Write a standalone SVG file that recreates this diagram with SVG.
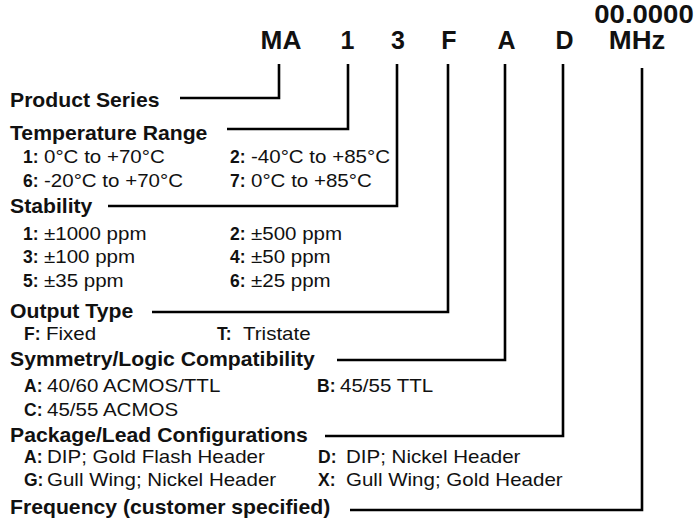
<svg xmlns="http://www.w3.org/2000/svg" width="700" height="520" viewBox="0 0 700 520">
<style>
text{font-family:"Liberation Sans",Arial,Helvetica,sans-serif;fill:#111}
.code{font-size:25px;font-weight:bold;text-anchor:middle}
.title{font-size:20px;font-weight:bold}
.lab{font-size:17.5px;font-weight:bold}
.val{font-size:18px}
.conn{fill:none;stroke:#000;stroke-width:2.6;stroke-linejoin:miter;stroke-linecap:butt}
</style>
<rect width="700" height="520" fill="#fff"/>
<g id="code">
<text class="code" transform="translate(644,23) scale(1.1,1)">00.0000</text>
<text class="code" transform="translate(281,49) scale(1.05,1)">MA</text>
<text class="code" transform="translate(347.5,49)">1</text>
<text class="code" transform="translate(398,49)">3</text>
<text class="code" transform="translate(449,49)">F</text>
<text class="code" transform="translate(506.5,49)">A</text>
<text class="code" transform="translate(564.5,49)">D</text>
<text class="code" transform="translate(637,49) scale(1.1,1)">MHz</text>
</g>
<g id="connectors">
<path class="conn" d="M279,64V98H180"/>
<path class="conn" d="M348,64V129H227"/>
<path class="conn" d="M397,64V206H108"/>
<path class="conn" d="M448,64V312H152"/>
<path class="conn" d="M505,64V360H337"/>
<path class="conn" d="M563,64V436H325"/>
<path class="conn" d="M642,68V510H350"/>
</g>
<g id="product-series">
<text class="title" transform="translate(10,107) scale(1.06,1)">Product Series</text>
</g>
<g id="temperature-range">
<text class="title" transform="translate(10,140) scale(1.06,1)">Temperature Range</text>
<text class="lab" x="23" y="163">1:</text><text class="val" transform="translate(44,163) scale(1.14,1)">0°C to +70°C</text>
<text class="lab" x="230" y="163">2:</text><text class="val" transform="translate(251,163) scale(1.14,1)">-40°C to +85°C</text>
<text class="lab" x="23" y="187">6:</text><text class="val" transform="translate(44,187) scale(1.14,1)">-20°C to +70°C</text>
<text class="lab" x="230" y="187">7:</text><text class="val" transform="translate(251,187) scale(1.14,1)">0°C to +85°C</text>
</g>
<g id="stability">
<text class="title" transform="translate(10,213) scale(1.06,1)">Stability</text>
<text class="lab" x="23" y="240">1:</text><text class="val" transform="translate(44,240) scale(1.14,1)">±1000 ppm</text>
<text class="lab" x="230" y="240">2:</text><text class="val" transform="translate(251,240) scale(1.14,1)">±500 ppm</text>
<text class="lab" x="23" y="263">3:</text><text class="val" transform="translate(44,263) scale(1.14,1)">±100 ppm</text>
<text class="lab" x="230" y="263">4:</text><text class="val" transform="translate(251,263) scale(1.14,1)">±50 ppm</text>
<text class="lab" x="23" y="287">5:</text><text class="val" transform="translate(44,287) scale(1.14,1)">±35 ppm</text>
<text class="lab" x="230" y="287">6:</text><text class="val" transform="translate(251,287) scale(1.14,1)">±25 ppm</text>
</g>
<g id="output-type">
<text class="title" transform="translate(10,318) scale(1.06,1)">Output Type</text>
<text class="lab" x="24" y="340">F:</text><text class="val" transform="translate(46,340) scale(1.14,1)">Fixed</text>
<text class="lab" x="217" y="340">T:</text><text class="val" transform="translate(243,340) scale(1.14,1)">Tristate</text>
</g>
<g id="symmetry">
<text class="title" transform="translate(10,366) scale(1.06,1)">Symmetry/Logic Compatibility</text>
<text class="lab" x="24" y="392">A:</text><text class="val" transform="translate(47,392) scale(1.14,1)">40/60 ACMOS/TTL</text>
<text class="lab" x="317" y="392">B:</text><text class="val" transform="translate(340,392) scale(1.14,1)">45/55 TTL</text>
<text class="lab" x="24" y="416">C:</text><text class="val" transform="translate(47,416) scale(1.14,1)">45/55 ACMOS</text>
</g>
<g id="package">
<text class="title" transform="translate(10,442) scale(1.06,1)">Package/Lead Configurations</text>
<text class="lab" x="24" y="463">A:</text><text class="val" transform="translate(47,463) scale(1.14,1)">DIP; Gold Flash Header</text>
<text class="lab" x="318" y="463">D:</text><text class="val" transform="translate(346,463) scale(1.14,1)">DIP; Nickel Header</text>
<text class="lab" x="24" y="486">G:</text><text class="val" transform="translate(47,486) scale(1.14,1)">Gull Wing; Nickel Header</text>
<text class="lab" x="318" y="486">X:</text><text class="val" transform="translate(346,486) scale(1.14,1)">Gull Wing; Gold Header</text>
</g>
<g id="frequency">
<text class="title" transform="translate(10,514) scale(1.06,1)">Frequency (customer specified)</text>
</g>
</svg>
